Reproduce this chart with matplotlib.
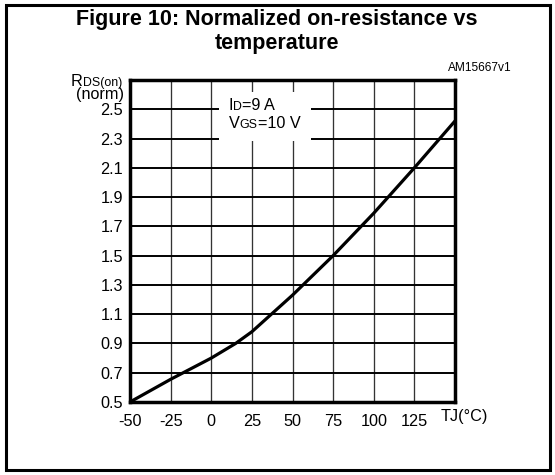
import matplotlib
matplotlib.use("Agg")
import matplotlib.pyplot as plt
from matplotlib.patches import Rectangle

temps = [-50, -25, 0, 15, 25, 50, 75, 100, 125, 150]
rds_norm = [0.5, 0.655, 0.8, 0.9, 0.98, 1.23, 1.5, 1.79, 2.1, 2.42]
x_ticks = [-50, -25, 0, 25, 50, 75, 100, 125]
y_ticks = [0.5, 0.7, 0.9, 1.1, 1.3, 1.5, 1.7, 1.9, 2.1, 2.3, 2.5]

W, H = 555, 475
plt.rcParams["font.family"] = ["Liberation Sans", "DejaVu Sans"]
BIG, SMALL = 11.7, 8.9


def fx(px):
    return px / W


def fy(py):
    return 1 - py / H


fig = plt.figure(figsize=(W / 100, H / 100), dpi=100)
ax = fig.add_axes([fx(130), fy(402), fx(455) - fx(130), fy(80) - fy(402)])

ax.plot(temps, rds_norm, color="black", lw=2.3, zorder=4)
ax.set_xlim(-50, 150)
ax.set_ylim(0.5, 2.7)
ax.set_xticks(x_ticks)
ax.set_yticks(y_ticks)
ax.set_xticklabels([str(t) for t in x_ticks], fontsize=BIG)
ax.set_yticklabels([f"{v:.1f}" for v in y_ticks], fontsize=BIG)
ax.tick_params(axis="y", length=0, pad=5)
ax.tick_params(axis="x", length=0, pad=8.5)
for v in [-25, 0, 25, 50, 75, 100, 125]:
    ax.axvline(v, color="#333333", lw=0.95, zorder=1)
for v in y_ticks[1:]:
    ax.axhline(v, color="black", lw=1.4, zorder=1)
for s in ax.spines.values():
    s.set_linewidth(2.5)

# white box behind the test conditions
ax.add_patch(Rectangle((4.5, 2.28), 57, 0.34, facecolor="white",
                       edgecolor="none", zorder=2))


def chain(x, y, parts):
    """Write text pieces of alternating size one after another."""
    prev = None
    for txt, size in parts:
        if prev is None:
            prev = fig.text(fx(x), fy(y), txt, fontsize=size, va="center",
                            ha="left")
        else:
            prev = ax.annotate(txt, xy=(1, 0), xycoords=prev, fontsize=size,
                               ha="left", va="bottom", annotation_clip=False)
    return prev


chain(229, 105, [("I", BIG), ("D", SMALL), ("=9 A", BIG)])
chain(229, 123.5, [("V", BIG), ("GS", SMALL), ("=10 V", BIG)])

small = fig.text(fx(122), fy(89), "DS(on)", fontsize=SMALL, va="bottom",
                 ha="right")
ax.annotate("R", xy=(0, 0), xycoords=small, fontsize=BIG, ha="right",
            va="bottom", annotation_clip=False)
fig.text(fx(124), fy(95), "(norm)", fontsize=BIG, ha="right", va="center")
fig.text(fx(441), fy(417), "TJ(°C)", fontsize=BIG, ha="left", va="center")
fig.text(fx(512), fy(68), "AM15667v1", fontsize=8.6, ha="right", va="center")

fig.text(fx(277), fy(20), "Figure 10: Normalized on-resistance vs",
         fontsize=15.5, fontweight="bold", ha="center", va="center")
fig.text(fx(277), fy(44), "temperature",
         fontsize=15.5, fontweight="bold", ha="center", va="center")

# outer frame
fig.add_artist(Rectangle((fx(5.5), fy(469.5)), fx(549.5) - fx(5.5),
                         fy(5.5) - fy(469.5), transform=fig.transFigure,
                         fill=False, edgecolor="black", lw=2.2))

fig.savefig("out.png", dpi=100)
